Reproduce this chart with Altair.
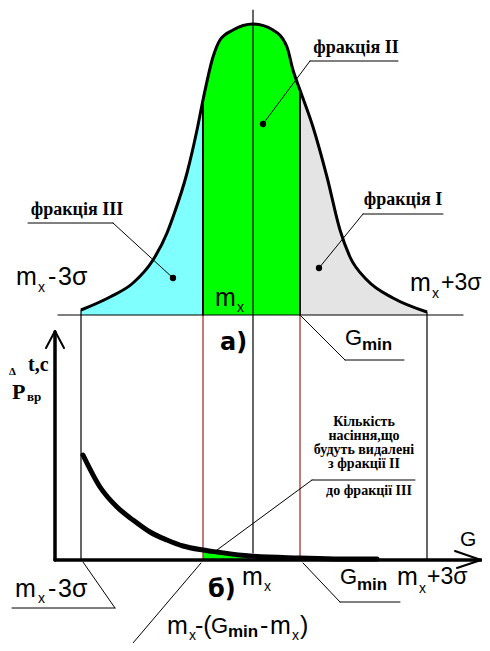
import altair as alt
import pandas as pd

# ---------------- data (diagram coordinates: x = G axis units, y = vertical units, top-down) -------------
# (a) distribution curve of the seed mass G
bell_x = [81, 110, 133, 153, 167, 173, 187, 197, 203, 213, 220, 233, 253, 273, 287, 293, 300, 313, 327, 340, 350, 367, 393, 427]
bell_y = [310, 297, 283, 260, 233, 217, 173, 130, 100, 57, 40, 30, 24, 30, 47, 70, 90, 127, 177, 230, 257, 280, 298, 312]
bell_base = 315
g_left, g_mx, g_min, g_right = 81, 253, 300, 427
g_split = 203  # m_x-(G_min-m_x)

fraction_names = ["фракція III", "фракція II", "фракція I"]
fraction_colors = ["#80FFFF", "#00FF00", "#E4E4E4"]

# (b) separation-time curve
decay_x = [83, 100, 117, 133, 150, 167, 183, 203, 217, 250, 300, 340, 377]
decay_y = [455, 487, 507, 520, 532, 540, 546, 550, 552, 556, 558, 559, 559]
axis_y = 560

# line segments: x1, y1, x2, y2, colour, width
seg_x1 = [81, 253, 427, 203, 300, 203, 300, 58, 55, 55, 55, 55, 481, 481,
          310, 310, 28, 113, 363, 363, 345, 345, 312, 312, 12, 115, 340, 340, 133]
seg_y1 = [310, 10, 312, 100, 90, 315, 315, 315, 332, 560, 331, 331, 560, 560,
          61, 61, 223, 223, 214, 214, 360, 360, 480, 480, 608, 608, 602, 602, 643]
seg_x2 = [81, 253, 427, 203, 300, 203, 300, 463, 55, 481, 46, 64, 455, 457,
          398, 263, 113, 173, 443, 319, 404, 301, 415, 217, 115, 83, 400, 303, 201]
seg_y2 = [560, 553, 560, 315, 315, 560, 560, 315, 560, 560, 348, 348, 551, 568,
          61, 124, 223, 278, 214, 268, 360, 316, 480, 550, 608, 562, 602, 563, 563]
seg_col = ["#000000"] * 5 + ["#A83232", "#A83232"] + ["#000000"] * 22
seg_w = [1.2, 1.2, 1.2, 2, 2, 1.3, 1.3, 1.2, 3.5, 3.5, 2, 2, 2, 2,
         1, 1, 1, 1, 1, 1, 1, 1, 1, 1, 1, 1, 1, 1, 1]

dot_x = [263, 173, 319]
dot_y = [124, 278, 268]

# text labels
sans_x = [16, 38, 48, 58, 410, 432, 441, 215, 237, 345, 460,
          15, 38, 48, 58, 242, 264, 340, 397, 419, 427,
          167, 189, 195, 211, 260, 270, 292, 300]
sans_y = [277, 288, 277, 277, 283, 294, 283, 298, 308, 338, 540,
          589, 599, 589, 589, 577, 587, 577, 577, 589, 577,
          626, 636, 626, 626, 626, 626, 636, 626]
sans_t = ["m", "x", "-", "3σ", "m", "x", "+3σ", "m", "x", "G", "G",
          "m", "x", "-", "3σ", "m", "x", "G", "m", "x", "+3σ",
          "m", "x", "-(", "G", "-", "m", "x", ")"]
sans_s = [25, 14, 25, 25, 25, 14, 23, 25, 14, 22, 21,
          25, 14, 25, 25, 25, 14, 22, 25, 14, 23,
          25, 14, 25, 22, 25, 25, 14, 25]

bold_x = [220, 208]
bold_y = [343, 590]
bold_t = ["а)", "б)"]
bold_s = [24, 24]

sub_x = [362, 357, 228]
sub_y = [345, 585, 632]
sub_t = ["min", "min", "min"]
sub_s = [17, 17, 17]

serif_c_x = [356, 77, 403, 364, 364, 364, 364, 369]
serif_c_y = [48, 210, 200, 422, 436, 450, 464, 491]
serif_c_t = ["фракція II", "фракція III", "фракція I", "Кількість", "насіння,що",
             "будуть видалені", "з фракції II", "до фракції III"]
serif_c_s = [18, 18, 18, 14, 14, 14, 14, 14]

serif_l_x = [9, 28, 12, 27]
serif_l_y = [372, 365, 392, 397]
serif_l_t = ["Δ", "t,c", "P", "вр"]
serif_l_s = [11, 20, 22, 13]

# ---------------- tables -------------
bounds = [(g_left, g_split), (g_split, g_min), (g_min, g_right)]
area_rows = []
for name, (lo, hi) in zip(fraction_names, bounds):
    for x, y in zip(bell_x, bell_y):
        if lo <= x <= hi:
            area_rows.append({"x": x, "y": y, "y2": bell_base, "part": name})
area_df = pd.DataFrame(area_rows)
bell_df = pd.DataFrame({"x": bell_x, "y": bell_y})
decay_df = pd.DataFrame({"x": decay_x, "y": decay_y})
green_df = pd.DataFrame([{"x": x, "y": y, "y2": axis_y} for x, y in zip(decay_x, decay_y)
                         if g_split <= x <= 250])
seg_df = pd.DataFrame({"x": seg_x1, "y": seg_y1, "x2": seg_x2, "y2": seg_y2, "c": seg_col, "w": seg_w})
dot_df = pd.DataFrame({"x": dot_x, "y": dot_y})
sans_df = pd.DataFrame({"x": sans_x, "y": sans_y, "t": sans_t, "s": sans_s})
bold_df = pd.DataFrame({"x": bold_x, "y": bold_y, "t": bold_t, "s": bold_s})
sub_df = pd.DataFrame({"x": sub_x, "y": sub_y, "t": sub_t, "s": sub_s})
serc_df = pd.DataFrame({"x": serif_c_x, "y": serif_c_y, "t": serif_c_t, "s": serif_c_s})
serl_df = pd.DataFrame({"x": serif_l_x, "y": serif_l_y, "t": serif_l_t, "s": serif_l_s})

XS = alt.Scale(domain=[8, 482], nice=False, zero=False)
YS = alt.Scale(domain=[8, 643], nice=False, zero=False, reverse=True)
X = alt.X("x:Q", scale=XS, axis=None)
Y = alt.Y("y:Q", scale=YS, axis=None)

areas = alt.Chart(area_df).mark_area(interpolate="monotone", opacity=1).encode(
    x=X, y=alt.Y("y:Q", scale=YS, axis=None, stack=None), y2="y2:Q",
    color=alt.Color("part:N", scale=alt.Scale(domain=fraction_names, range=fraction_colors), legend=None),
)
green = alt.Chart(green_df).mark_area(interpolate="monotone", color="#00FF00", opacity=1).encode(
    x=X, y=alt.Y("y:Q", scale=YS, axis=None, stack=None), y2="y2:Q")
segs = alt.Chart(seg_df).mark_rule(strokeCap="round").encode(
    x=X, y=Y, x2="x2:Q", y2="y2:Q",
    color=alt.Color("c:N", scale=None), strokeWidth=alt.StrokeWidth("w:Q", scale=None))
bell = alt.Chart(bell_df).mark_line(interpolate="monotone", color="black", strokeWidth=3).encode(x=X, y=Y)
decay = alt.Chart(decay_df).mark_line(interpolate="monotone", color="black", strokeWidth=5,
                                      strokeCap="round").encode(x=X, y=Y)
dots = alt.Chart(dot_df).mark_point(filled=True, color="black", size=40, opacity=1).encode(x=X, y=Y)

def txt(df, font, weight, align):
    return alt.Chart(df).mark_text(font=font, fontWeight=weight, align=align, baseline="middle",
                                   color="black").encode(
        x=X, y=Y, text="t:N", size=alt.Size("s:Q", scale=None))

chart = alt.layer(
    areas, green, segs, bell, decay, dots,
    txt(sans_df, "Liberation Sans", "normal", "left"),
    txt(bold_df, "DejaVu Sans", "bold", "left"),
    txt(sub_df, "Liberation Sans", "bold", "left"),
    txt(serc_df, "Liberation Serif", "bold", "center"),
    txt(serl_df, "Liberation Serif", "bold", "left"),
).properties(
    width=474, height=635, autosize=alt.AutoSizeParams(type="none"), padding=0,
    background="white",
).configure_view(stroke=None)

chart.save("out.html", embed_options={"renderer": "svg", "actions": False})
